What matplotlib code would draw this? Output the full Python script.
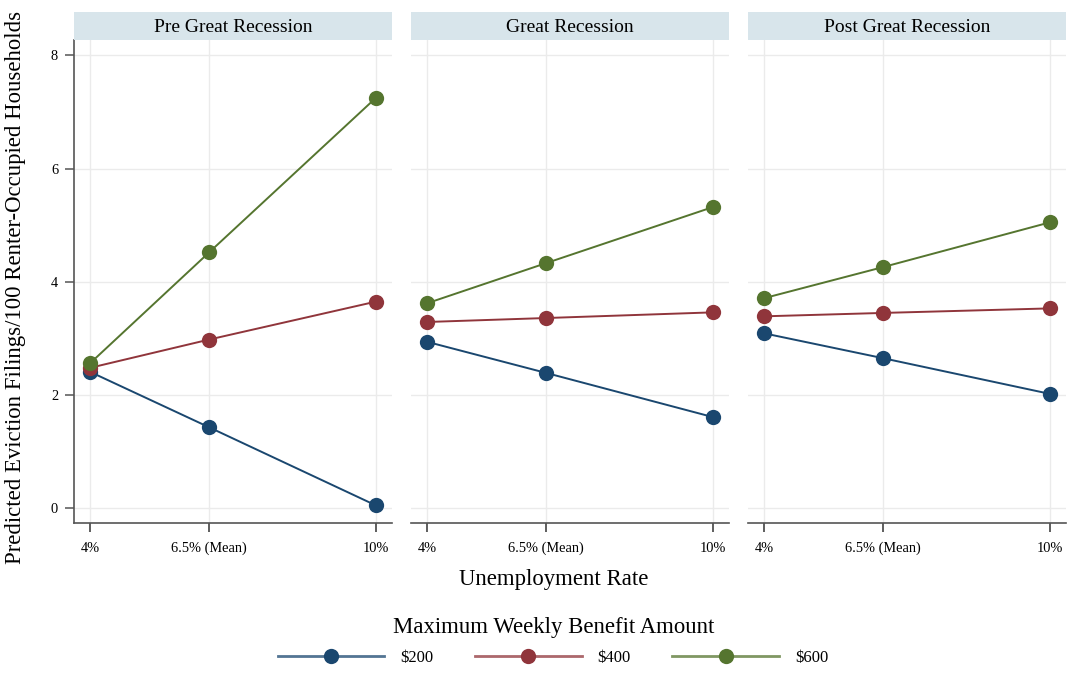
import matplotlib
matplotlib.use("Agg")
import matplotlib.pyplot as plt
from matplotlib.lines import Line2D
from matplotlib.patches import Rectangle

plt.rcParams['font.family'] = ['Liberation Serif', 'DejaVu Serif']

# Unemployment rate scenarios (x positions) and their labels
unemp = [4.0, 6.5, 10.0]
unemp_labels = ["4%", "6.5% (Mean)", "10%"]

periods = ["Pre Great Recession", "Great Recession", "Post Great Recession"]
benefit_labels = ["$200", "$400", "$600"]

# Predicted eviction filings per 100 renter-occupied households
pre_200 = [2.41, 1.43, 0.05]
pre_400 = [2.48, 2.98, 3.65]
pre_600 = [2.56, 4.52, 7.25]

gr_200 = [2.94, 2.39, 1.61]
gr_400 = [3.29, 3.36, 3.46]
gr_600 = [3.62, 4.33, 5.32]

post_200 = [3.09, 2.65, 2.02]
post_400 = [3.39, 3.45, 3.53]
post_600 = [3.71, 4.26, 5.05]

series = [
    [pre_200, pre_400, pre_600],
    [gr_200, gr_400, gr_600],
    [post_200, post_400, post_600],
]

colors = ["#1a476f", "#90353b", "#55752f"]
y_ticks = [0, 2, 4, 6, 8]

W, H = 1068, 673
fig = plt.figure(figsize=(W / 100, H / 100), dpi=100)

lefts = [74, 411, 748]
pw = 318
top_px, bot_px = 40, 523
hdr_top = 12

for i, (lx, period) in enumerate(zip(lefts, periods)):
    ax = fig.add_axes([lx / W, 1 - bot_px / H, pw / W, (bot_px - top_px) / H])
    ax.set_xlim(3.664, 10.336)
    ax.set_ylim(-0.26, 8.27)
    ax.set_xticks(unemp)
    ax.set_xticklabels(unemp_labels, fontsize=10.4)
    ax.set_yticks(y_ticks)
    ax.grid(True, color="#ebebeb", linewidth=1.0)
    ax.set_axisbelow(True)
    for s in ["top", "right"]:
        ax.spines[s].set_visible(False)
    ax.spines["bottom"].set_color("#555555")
    ax.spines["bottom"].set_linewidth(1.2)
    ax.tick_params(axis="x", length=6.5, width=1.1, color="#333333", pad=7)
    if i == 0:
        ax.spines["left"].set_color("#555555")
        ax.spines["left"].set_linewidth(1.2)
        ax.set_yticklabels([str(t) for t in y_ticks], fontsize=10.4)
        ax.tick_params(axis="y", length=6.5, width=1.1, color="#555555", pad=5)
    else:
        ax.spines["left"].set_visible(False)
        ax.tick_params(axis="y", length=0, labelleft=False)
    for vals, c in zip(series[i], colors):
        ax.plot(unemp, vals, color=c, linewidth=1.4, marker="o",
                markersize=11, markeredgewidth=0, zorder=3)
    # panel header strip
    fig.patches.append(Rectangle((lx / W, 1 - top_px / H), pw / W,
                                 (top_px - hdr_top) / H,
                                 transform=fig.transFigure,
                                 facecolor="#d8e5eb", edgecolor="none"))
    fig.text((lx + pw / 2) / W, 1 - 27.5 / H, period,
             ha="center", va="center", fontsize=14)

fig.text(16 / W, 1 - 287 / H,
         "Predicted Eviction Filings/100 Renter-Occupied Households",
         rotation=90, ha="center", va="center", fontsize=16.4)
fig.text(554 / W, 1 - 580 / H, "Unemployment Rate",
         ha="center", va="center", fontsize=16.4)
fig.text(554 / W, 1 - 628 / H, "Maximum Weekly Benefit Amount",
         ha="center", va="center", fontsize=16.4)

# legend keys: a lighter line with a solid marker drawn over it
handles = [(Line2D([0], [0], color=c, linewidth=2, alpha=0.75),
            Line2D([0], [0], color=c, linestyle="none", marker="o",
                   markersize=11, markeredgewidth=0))
           for c in colors]
leg = fig.legend(handles, benefit_labels, loc="center",
                 bbox_to_anchor=(553 / W, 1 - 658 / H), ncol=3,
                 frameon=False, fontsize=12, handlelength=6.4,
                 handletextpad=0.95, columnspacing=2.5, borderpad=0)

fig.savefig("out.png", dpi=100)
